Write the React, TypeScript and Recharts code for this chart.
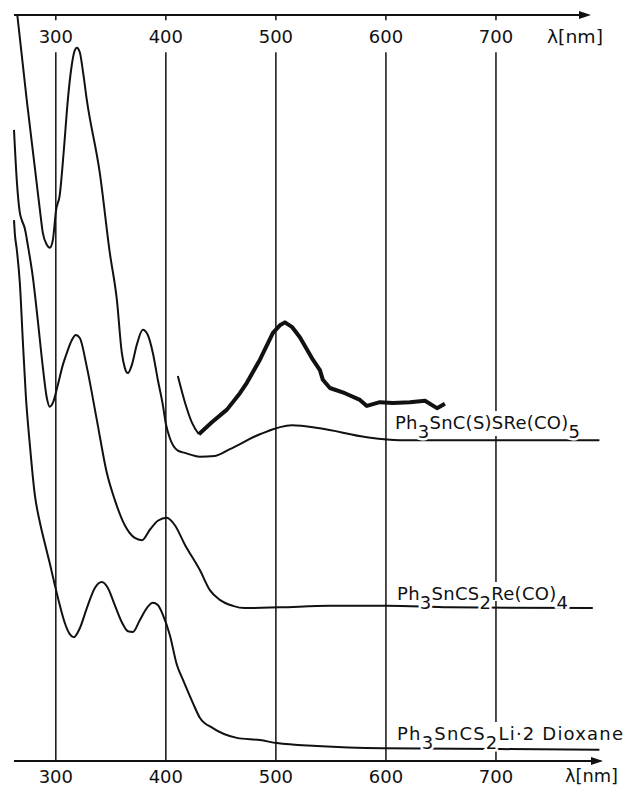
import React from "react";
import { LineChart, Line, XAxis, YAxis, ReferenceLine } from "recharts";

// wavelength (nm) / relative absorbance
const reCo5Wl = [265, 273.6, 280.9, 285.5, 288.2, 291.8, 294.5, 297.3, 298.2, 300, 303.6, 307.3, 310.9, 314.5, 317.3, 319.1, 321.8, 324.5, 328.2, 340, 349.1, 355.5, 360, 362.7, 365.5, 369.1, 373.6, 379.1, 383.6, 388.2, 392.7, 397.3, 400, 403.6, 410.9, 417.3, 430.9, 444.5, 458.2, 485.5, 514.5, 540, 582.7, 612.7, 794];
const reCo5Abs = [100, 88.6, 79.6, 73.9, 70.8, 69.2, 68.8, 69.8, 70.9, 73.6, 75.9, 81.9, 88.6, 93.3, 95.3, 95.6, 95.0, 92.6, 88.6, 78.8, 68.1, 61.8, 54.7, 52.7, 52.0, 53.1, 55.8, 57.8, 57.1, 54.7, 51.1, 47.7, 45.2, 43.3, 41.6, 41.3, 40.8, 40.9, 41.8, 43.8, 45.0, 44.6, 43.4, 43.0, 43.0];

// enlarged visible band, first part drawn thin, rest is the noisy trace
const bandStartWl = [410.9, 417.3, 423.6, 430];
const bandStartAbs = [51.6, 48.1, 45.4, 43.8];
const bandWl = [430, 441.8, 455.5, 467.3, 473.6, 485.5, 497.3, 503.6, 508.2, 514.5, 521.8, 533.6, 540, 542.7, 549.1, 562.7, 576.4, 582.7, 594.5, 606.4, 621.8, 635.5, 646.4, 653.6];
const bandAbs = [43.8, 45.4, 47.1, 49.3, 50.7, 53.8, 57.4, 58.4, 58.8, 58.2, 56.8, 53.8, 52.4, 51.1, 50.0, 49.3, 48.4, 47.6, 48.1, 48.0, 48.1, 48.3, 47.3, 47.9];

const reCo4Wl = [262, 264.5, 267.3, 269.1, 271.8, 274.5, 279.1, 283.6, 288.2, 291.8, 294.5, 297.3, 301.8, 306.4, 310, 314.5, 318.2, 321.8, 328.2, 337.3, 346.4, 353.6, 362.7, 371.8, 378.2, 385.5, 392.7, 400.9, 408.2, 417.3, 430.9, 440, 449.1, 460.9, 471.8, 503.6, 549.1, 600.9, 658.2, 788];
const reCo4Abs = [84.6, 77.9, 73.5, 72.5, 71.4, 69.2, 64.9, 59.1, 52.8, 48.7, 47.5, 48.0, 50.4, 53.1, 54.7, 56.4, 57.1, 56.7, 52.8, 45.7, 38.6, 35.0, 31.6, 29.9, 29.6, 31.0, 32.2, 32.6, 31.6, 29.0, 25.6, 22.9, 21.6, 20.8, 20.5, 20.6, 20.8, 20.8, 20.6, 20.5];

const liWl = [262, 262.7, 264.5, 267.3, 270, 272.7, 276.4, 280.9, 285.5, 290, 294.5, 299.1, 303.6, 308.2, 312.7, 316.4, 321.8, 328.2, 335.5, 341.8, 347.3, 353.6, 360, 365.5, 370, 376.4, 382.7, 388.2, 392.7, 397.3, 403.6, 410, 415.5, 424.5, 430.9, 442.7, 464.5, 485.5, 500.9, 537.3, 597.3, 703.6, 794];
const liAbs = [72.5, 70.8, 68.6, 64.1, 56.4, 49.1, 42.4, 35.7, 32.0, 29.2, 26.5, 23.6, 20.9, 18.5, 17.0, 16.6, 17.8, 20.5, 23.2, 24.0, 23.2, 20.9, 18.6, 17.4, 17.3, 18.9, 20.5, 21.2, 20.9, 19.6, 16.9, 12.9, 10.9, 7.8, 5.8, 4.4, 3.1, 2.8, 2.4, 2.0, 1.7, 1.6, 1.5];

const xTicks = [300, 400, 500, 600, 700];

const toRows = (wl: number[], abs: number[]) => wl.map((w, i) => ({ wl: w, v: abs[i] }));

const FONT = "DejaVu Sans";
const INK = "#111";

// the scale is printed twice: along the bottom axis and just under the top one
const WavelengthTick = (props: any) => {
  const { x, payload } = props;
  return (
    <g>
      <text x={x} y={43} textAnchor="middle" fontFamily={FONT} fontSize={18} fill={INK}>
        {payload.value}
      </text>
      <text x={x} y={783} textAnchor="middle" fontFamily={FONT} fontSize={18} fill={INK}>
        {payload.value}
      </text>
    </g>
  );
};

type Part = [string, boolean];

function CurveLabel({ x, y, width, parts }: { x: number; y: number; width: number; parts: Part[] }) {
  let prevSub = false;
  return (
    <text x={x} y={y} textLength={width} lengthAdjust="spacing" fontFamily={FONT} fontSize={18} fill={INK}>
      {parts.map(([t, sub], i) => {
        const dy = (sub ? 9 : 0) - (prevSub ? 9 : 0);
        prevSub = sub;
        return (
          <tspan
            key={i}
            dy={dy}
            stroke={sub ? "#fff" : undefined}
            strokeWidth={sub ? 5 : undefined}
            style={{ paintOrder: "stroke" }}
          >
            {t}
          </tspan>
        );
      })}
    </text>
  );
}

export default function App() {
  return (
    <div style={{ position: "absolute", left: 0, top: 0, width: 625, height: 787, background: "#fff" }}>
      <LineChart width={625} height={787} margin={{ top: 15, right: 24.5, bottom: 0, left: 14 }}>
        <XAxis
          dataKey="wl"
          type="number"
          domain={[262, 795]}
          ticks={xTicks}
          height={26}
          tickLine={false}
          axisLine={{ stroke: INK, strokeWidth: 2 }}
          tick={(p: any) => <WavelengthTick {...p} />}
          interval={0}
        />
        <YAxis type="number" domain={[0, 100]} width={0} tick={false} tickLine={false} axisLine={{ stroke: INK, strokeWidth: 2 }} />
        <ReferenceLine segment={[{ x: 262, y: 100 }, { x: 781, y: 100 }]} stroke={INK} strokeWidth={2} />
        {xTicks.map((t) => (
          <ReferenceLine key={"g" + t} segment={[{ x: t, y: 95 }, { x: t, y: 0 }]} stroke={INK} strokeWidth={1.5} />
        ))}
        {xTicks.map((t) => (
          <ReferenceLine key={"s" + t} segment={[{ x: t, y: 100 }, { x: t, y: 99.3 }]} stroke={INK} strokeWidth={1.5} />
        ))}
        <Line data={toRows(reCo5Wl, reCo5Abs)} dataKey="v" type="monotone" stroke={INK} strokeWidth={2} dot={false} isAnimationActive={false} />
        <Line data={toRows(bandStartWl, bandStartAbs)} dataKey="v" type="monotone" stroke={INK} strokeWidth={2} dot={false} isAnimationActive={false} />
        <Line data={toRows(bandWl, bandAbs)} dataKey="v" type="linear" stroke={INK} strokeWidth={4} strokeLinejoin="round" dot={false} isAnimationActive={false} />
        <Line data={toRows(reCo4Wl, reCo4Abs)} dataKey="v" type="monotone" stroke={INK} strokeWidth={2} dot={false} isAnimationActive={false} />
        <Line data={toRows(liWl, liAbs)} dataKey="v" type="monotone" stroke={INK} strokeWidth={2} dot={false} isAnimationActive={false} />
      </LineChart>
      <svg width={625} height={787} style={{ position: "absolute", left: 0, top: 0, pointerEvents: "none" }}>
        <polygon points="579,11 591,15 579,19" fill={INK} />
        <polygon points="591,757 603,761 591,765" fill={INK} />
        <text x={547} y={43} textLength={56} lengthAdjust="spacingAndGlyphs" fontFamily={FONT} fontSize={18} fill={INK}>λ[nm]</text>
        <text x={565} y={782} textLength={53} lengthAdjust="spacingAndGlyphs" fontFamily={FONT} fontSize={18} fill={INK}>λ[nm]</text>

        <rect x={393} y={411} width={190} height={25} fill="#fff" />
        <CurveLabel x={395} y={429} width={185} parts={[["Ph", false], ["3", true], ["SnC(S)SRe(CO)", false], ["5", true]]} />

        <rect x={393} y={582} width={178} height={19} fill="#fff" />
        <CurveLabel x={397} y={600} width={171} parts={[["Ph", false], ["3", true], ["SnCS", false], ["2", true], ["Re(CO)", false], ["4", true]]} />

        <rect x={393} y={722} width={232} height={23} fill="#fff" />
        <CurveLabel x={397} y={740} width={226} parts={[["Ph", false], ["3", true], ["SnCS", false], ["2", true], ["Li·2 Dioxane", false]]} />
      </svg>
    </div>
  );
}
